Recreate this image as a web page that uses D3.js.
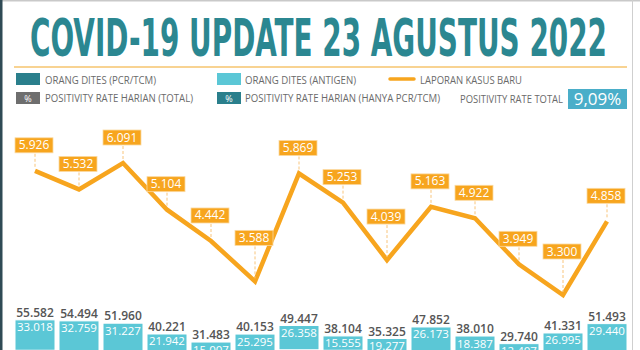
<!DOCTYPE html>
<html>
<head>
<meta charset="utf-8">
<script src="https://cdn.jsdelivr.net/npm/d3@7"></script>
<style>
  html, body { margin: 0; padding: 0; background: #fff; }
  svg { display: block; }
  text { font-family: "Open Sans", "Noto Sans", sans-serif; }
</style>
</head>
<body>
<svg id="chart" width="640" height="350"></svg>
<script>
// Daily reports, 14 days
const days = d3.range(14);
const newCases = [5926, 5532, 6091, 5104, 4442, 3588, 5869, 5253, 4039, 5163, 4922, 3949, 3300, 4858];
const testedTotal = [55582, 54494, 51960, 40221, 31483, 40153, 49447, 38104, 35325, 47852, 38010, 29740, 41331, 51493];
const testedAntigen = [33018, 32759, 31227, 21942, 15007, 25295, 26358, 15555, 19277, 26173, 18387, 12407, 26995, 29440];
const positivityTotal = "9,09%";
const titleText = "COVID-19 UPDATE 23 AGUSTUS 2022";

const fmt = v => d3.format(",")(v).replace(/,/g, ".");

const ORANGE = "#f7a51e";
const CYAN = "#5bc7d6";
const TEAL = "#2a7f8c";
const GRAY = "#6e6e6e";

const svg = d3.select("#chart");

// frame
svg.append("rect").attr("x", 0).attr("y", 0).attr("width", 640).attr("height", 350).attr("fill", "#fff");
svg.append("line").attr("x1", 0).attr("x2", 640).attr("y1", 0.75).attr("y2", 0.75)
  .attr("stroke", "#c9c9c9").attr("stroke-width", 1.5);
svg.append("rect").attr("x", 0).attr("y", 0).attr("width", 2.5).attr("height", 350).attr("fill", "#2f4a55");
svg.append("line").attr("x1", 632.5).attr("x2", 632.5).attr("y1", 0).attr("y2", 350)
  .attr("stroke", "#cfcfcf").attr("stroke-width", 1);

// title
svg.append("text")
  .attr("x", 30).attr("y", 56)
  .attr("textLength", 577).attr("lengthAdjust", "spacingAndGlyphs")
  .style("font-family", "'Liberation Sans Narrow', 'DejaVu Sans Condensed', sans-serif")
  .style("font-weight", "bold").style("font-size", "52px")
  .attr("fill", "#2b8791")
  .text(titleText);

svg.append("line").attr("x1", 14).attr("x2", 627).attr("y1", 67).attr("y2", 67)
  .attr("stroke", "#f6c46e").attr("stroke-width", 1.5);

// legend
const legendFont = "'Liberation Sans Narrow', 'DejaVu Sans Condensed', sans-serif";
function legendText(x, y, txt, len) {
  svg.append("text").attr("x", x).attr("y", y)
    .attr("textLength", len).attr("lengthAdjust", "spacingAndGlyphs")
    .style("font-family", "'Open Sans', sans-serif").style("font-size", "10.5px")
    .attr("fill", "#6a6a6a").text(txt);
}
function swatch(x, y, color, pct) {
  svg.append("rect").attr("x", x).attr("y", y).attr("width", 24).attr("height", 12).attr("fill", color);
  if (pct) {
    svg.append("text").attr("x", x + 12).attr("y", y + 9.5).attr("text-anchor", "middle")
      .style("font-size", "9px").attr("fill", "#fff").text("%");
  }
}
swatch(16, 73, TEAL, false);
legendText(45, 84, "ORANG DITES (PCR/TCM)", 111);
swatch(217, 73, CYAN, false);
legendText(245, 84, "ORANG DITES (ANTIGEN)", 111);
svg.append("line").attr("x1", 390).attr("x2", 414).attr("y1", 79).attr("y2", 79)
  .attr("stroke", ORANGE).attr("stroke-width", 3.5).attr("stroke-linecap", "round");
legendText(420, 83.5, "LAPORAN KASUS BARU", 102);

swatch(16, 92, GRAY, true);
legendText(45, 102, "POSITIVITY RATE HARIAN (TOTAL)", 148);
swatch(217, 92, TEAL, true);
legendText(245, 102, "POSITIVITY RATE HARIAN (HANYA PCR/TCM)", 195);
legendText(460, 102.5, "POSITIVITY RATE TOTAL", 103);

svg.append("rect").attr("x", 568).attr("y", 89).attr("width", 59).attr("height", 20).attr("fill", "#4aaec9");
svg.append("text").attr("x", 597.5).attr("y", 105).attr("text-anchor", "middle")
  .style("font-size", "17px").attr("fill", "#fff").text(positivityTotal);

// scales
const x = d3.scalePoint().domain(days).range([35, 607]);
const yLine = d3.scaleLinear().domain([3300, 6091]).range([295, 163]);
const yBar = d3.scaleLinear().domain([0, 60000]).range([371, 371 - 60000 * 0.00092]);
const barW = 40;

// stacked bars: PCR at the base, antigen on top
const stack = days.map(i => ({
  i,
  pcr: testedTotal[i] - testedAntigen[i],
  antigen: testedAntigen[i],
  total: testedTotal[i]
}));

const bars = svg.append("g");
bars.selectAll("rect.pcr").data(stack).join("rect").attr("class", "pcr")
  .attr("x", d => x(d.i) - barW / 2).attr("width", barW)
  .attr("y", d => yBar(d.pcr)).attr("height", d => yBar(0) - yBar(d.pcr))
  .attr("fill", TEAL).attr("stroke", "#fff").attr("stroke-width", 1);
bars.selectAll("rect.ag").data(stack).join("rect").attr("class", "ag")
  .attr("x", d => x(d.i) - barW / 2).attr("width", barW)
  .attr("y", d => yBar(d.total)).attr("height", d => yBar(d.pcr) - yBar(d.total))
  .attr("fill", CYAN).attr("stroke", "#fff").attr("stroke-width", 1);
bars.selectAll("text.tot").data(stack).join("text").attr("class", "tot")
  .attr("x", d => x(d.i)).attr("y", d => yBar(d.total) - 3)
  .attr("text-anchor", "middle").style("font-size", "12px").style("font-weight", 600)
  .attr("fill", "#555").text(d => fmt(d.total));
bars.selectAll("text.ag").data(stack).join("text").attr("class", "ag")
  .attr("x", d => x(d.i)).attr("y", d => yBar(d.total) + 11.5)
  .attr("text-anchor", "middle").style("font-size", "11.5px")
  .attr("fill", "#fff").text(d => fmt(d.antigen));

// new-case line
const line = d3.line().x(i => x(i)).y(i => yLine(newCases[i])).curve(d3.curveLinear);
svg.append("path").datum(days).attr("d", line)
  .attr("fill", "none").attr("stroke", ORANGE).attr("stroke-width", 4.5)
  .attr("stroke-linejoin", "miter");

// value tags; deep valleys get lifted so the tag clears both slopes
const isValley = i => i > 0 && i < newCases.length - 1 &&
  newCases[i] < newCases[i - 1] - 500 && newCases[i] < newCases[i + 1] - 500;
const tagH = 15, tagW = 38;
const tags = svg.append("g");
days.forEach(i => {
  const px = x(i), py = yLine(newCases[i]);
  const gap = isValley(i) ? 36 : 18;
  const bottom = py - gap;
  tags.append("line").attr("x1", px).attr("x2", px).attr("y1", bottom + 1).attr("y2", py - 3)
    .attr("stroke", "#f8c57c").attr("stroke-width", 1).attr("stroke-dasharray", "3,2");
  tags.append("rect").attr("x", px - tagW / 2 - 1).attr("y", bottom - tagH)
    .attr("width", tagW).attr("height", tagH)
    .attr("fill", ORANGE).attr("stroke", "#fbd9a0").attr("stroke-width", 0.8);
  tags.append("text").attr("x", px - 1).attr("y", bottom - 3.5).attr("text-anchor", "middle")
    .style("font-size", "12px").attr("fill", "#fff").text(fmt(newCases[i]));
});
</script>
</body>
</html>
